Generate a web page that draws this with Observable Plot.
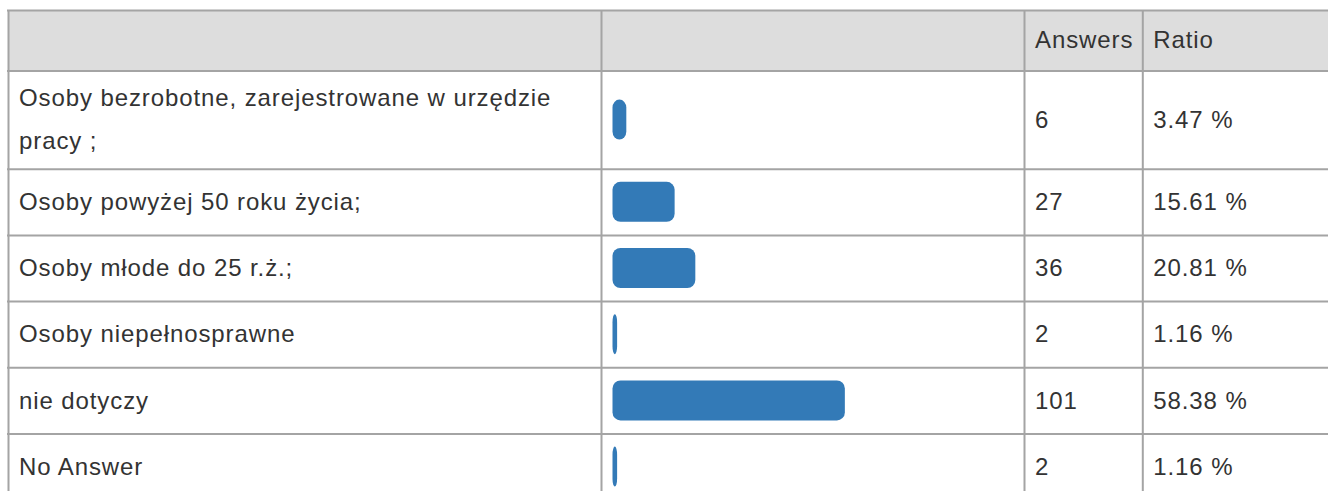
<!DOCTYPE html>
<html>
<head>
<meta charset="utf-8">
<script src="https://cdn.jsdelivr.net/npm/d3@7"></script>
<script src="https://cdn.jsdelivr.net/npm/@observablehq/plot@0.6"></script>
<style>
  html, body { margin: 0; padding: 0; background: #fff; }
  #chart svg text { letter-spacing: 0.9px; }
</style>
</head>
<body>
<div id="chart"></div>
<script>
// ---- data ----
const categories = [
  "Osoby bezrobotne, zarejestrowane w urzędzie pracy ;",
  "Osoby powyżej 50 roku życia;",
  "Osoby młode do 25 r.ż.;",
  "Osoby niepełnosprawne",
  "nie dotyczy",
  "No Answer"
];
const answers = [6, 27, 36, 2, 101, 2];
const ratios = [3.47, 15.61, 20.81, 1.16, 58.38, 1.16];
const headers = ["", "", "Answers", "Ratio"];

// ---- layout (table geometry) ----
const W = 1328, H = 491;
const FONT = "Liberation Sans, Arial, Helvetica, sans-serif";
const FS = 24;
const LS = 0.9; // letter spacing px
const colEdges = [8, 601, 1024, 1142.3];
const pad = 10.5;
const tableTop = 10, headerH = 60.5, rowBase = 66.2, extraLine = 32, textLine = 43;
const lineColor = "#a4a4a4";

// wrap labels to the first column width
const ctx = document.createElement("canvas").getContext("2d");
ctx.font = `${FS}px ${FONT}`;
const measure = s => ctx.measureText(s).width + LS * s.length;
const maxW = colEdges[1] - colEdges[0] - 2 * pad;
function wrap(s) {
  const words = s.split(" "); const lines = []; let cur = "";
  for (const w of words) {
    const t = cur ? cur + " " + w : w;
    if (cur && measure(t) > maxW) { lines.push(cur); cur = w; } else cur = t;
  }
  if (cur) lines.push(cur);
  return lines;
}
const wrapped = categories.map(wrap);
const rowH = wrapped.map(l => rowBase + extraLine * (l.length - 1));
const rowTop = [];
let acc = tableTop + headerH;
for (const h of rowH) { rowTop.push(acc); acc += h; }
const rowMid = rowTop.map((t, i) => t + rowH[i] / 2);
const hLines = [tableTop, tableTop + headerH, ...rowTop.map((t, i) => t + rowH[i])];
const tableBottom = hLines[hLines.length - 1];

// one entry per wrapped label line
const labelLines = wrapped.flatMap((ls, i) => ls.map((text, k) => ({i, k, n: ls.length, text})));

const idx = d3.range(categories.length);
const px = f => ({value: f, scale: null});

const chart = Plot.plot({
  width: W,
  height: H,
  margin: 0,
  style: {fontFamily: FONT, background: "#fff", color: "#333"},
  x: {domain: [0, 100], range: [colEdges[1] + 11.5, colEdges[1] + 11.5 + 398], axis: null},
  y: {domain: [0, H], range: [0, H], axis: null},
  marks: [
    // header background
    Plot.rect([0], {
      x1: px(() => colEdges[0]), x2: px(() => W + 10),
      y1: () => tableTop, y2: () => tableTop + headerH,
      fill: "#dddddd"
    }),
    // bars (ratio)
    Plot.rect(idx, {
      x1: 0, x2: i => ratios[i],
      y1: i => rowMid[i] - 20, y2: i => rowMid[i] + 20,
      fill: "#337ab7", rx: 8
    }),
    // horizontal grid lines
    Plot.ruleY(hLines, {
      y: d => d, x1: px(() => colEdges[0] - 1), x2: px(() => W + 10),
      stroke: lineColor, strokeWidth: 2
    }),
    // vertical grid lines
    Plot.ruleX(colEdges, {
      x: px(d => d), y1: () => tableTop, y2: () => tableBottom,
      stroke: lineColor, strokeWidth: 2
    }),
    // header text
    Plot.text(d3.range(headers.length), {
      x: px(j => colEdges[j] + pad), y: () => tableTop + headerH / 2,
      text: j => headers[j], textAnchor: "start", fontSize: FS, fill: "#333"
    }),
    // category labels (wrapped)
    Plot.text(labelLines, {
      x: px(() => colEdges[0] + pad),
      y: d => rowMid[d.i] + (d.k - (d.n - 1) / 2) * textLine,
      text: "text", textAnchor: "start", fontSize: FS, fill: "#333"
    }),
    // answers
    Plot.text(idx, {
      x: px(() => colEdges[2] + pad), y: i => rowMid[i],
      text: i => String(answers[i]), textAnchor: "start", fontSize: FS, fill: "#333"
    }),
    // ratio text
    Plot.text(idx, {
      x: px(() => colEdges[3] + pad), y: i => rowMid[i],
      text: i => ratios[i].toFixed(2) + " %", textAnchor: "start", fontSize: FS, fill: "#333"
    })
  ]
});
document.getElementById("chart").appendChild(chart);
</script>
</body>
</html>
